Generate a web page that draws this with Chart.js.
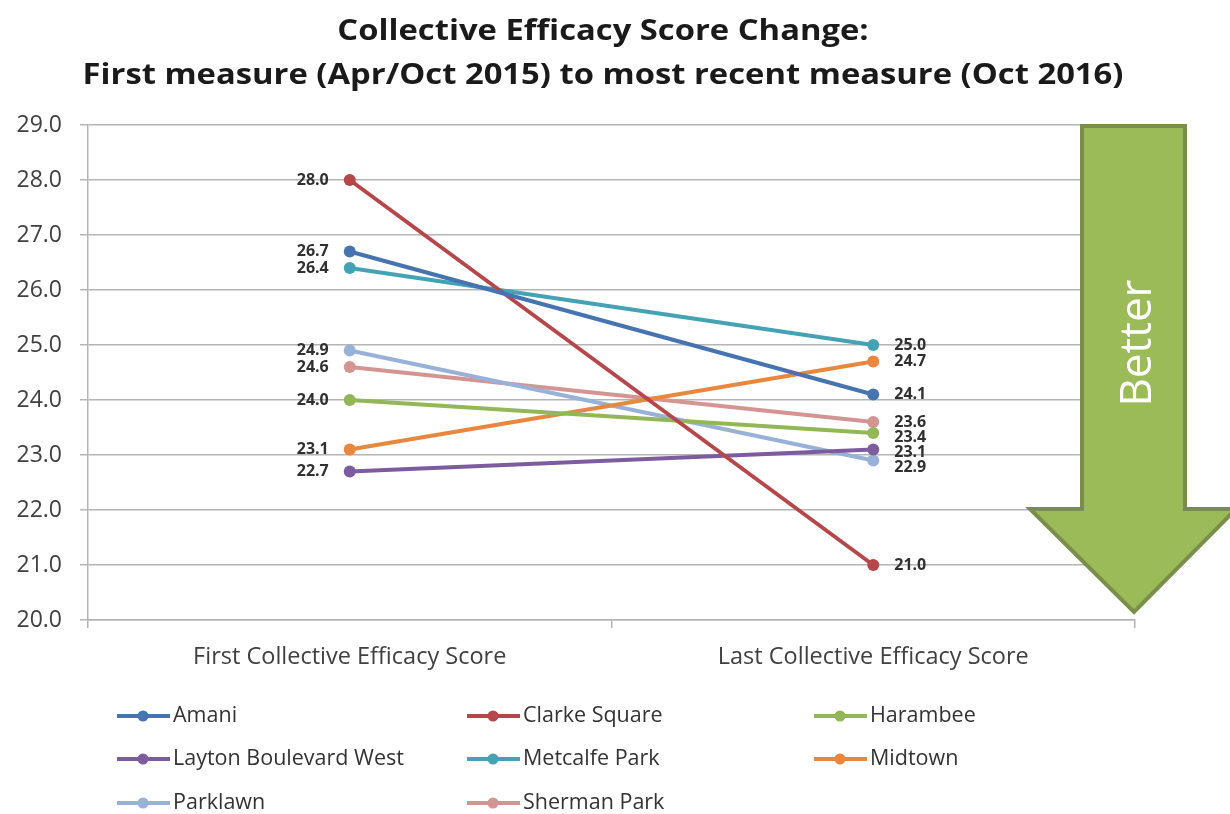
<!DOCTYPE html>
<html>
<head>
<meta charset="utf-8">
<script src="https://cdn.jsdelivr.net/npm/chart.js@4/dist/chart.umd.min.js"></script>
<style>
  html, body { margin: 0; padding: 0; background: #fff; }
  #chart { display: block; }
</style>
</head>
<body>
<canvas id="chart" width="1230" height="814"></canvas>
<script>
'use strict';

const categories = ['First Collective Efficacy Score', 'Last Collective Efficacy Score'];
const neighborhoods = ['Amani', 'Clarke Square', 'Harambee', 'Layton Boulevard West',
  'Metcalfe Park', 'Midtown', 'Parklawn', 'Sherman Park'];
const firstScores = [26.7, 28.0, 24.0, 22.7, 26.4, 23.1, 24.9, 24.6];
const lastScores = [24.1, 21.0, 23.4, 23.1, 25.0, 24.7, 22.9, 23.6];
const lineColors = ['#4674B0', '#B5474A', '#93B757', '#7C5B9E', '#45A2B5', '#E8873E', '#97B1D8', '#D49491'];
const yMin = 20, yMax = 29, yStep = 1;
const titleLines = ['Collective Efficacy Score Change:',
  'First measure (Apr/Oct 2015) to most recent measure (Oct 2016)'];
const arrowText = 'Better';

const FONT = '"Open Sans", "DejaVu Sans", sans-serif';
const gridColor = '#b4b4b4';

let canvasElem = document.getElementById('chart');

// title drawn by hand so it doesn't eat layout space (slightly widened like the original)
const titlePlugin = {
  id: 'titleText',
  afterDraw(chart) {
    const ctx = chart.ctx;
    ctx.save();
    ctx.fillStyle = '#1a1a1a';
    ctx.font = 'bold 29px ' + FONT;
    ctx.textAlign = 'center';
    ctx.textBaseline = 'middle';
    ctx.translate(603, 0);
    ctx.scale(1.13, 1);
    ctx.fillText(titleLines[0], 0, 32);
    ctx.fillText(titleLines[1], 0, 76);
    ctx.restore();
  }
};

// value labels, left of first points and right of last points
const valueLabels = {
  id: 'valueLabels',
  afterDatasetsDraw(chart) {
    const ctx = chart.ctx;
    ctx.save();
    ctx.font = 'bold 16px ' + FONT;
    ctx.fillStyle = '#303030';
    ctx.textBaseline = 'middle';
    [0, 1].forEach(idx => {
      const items = chart.data.datasets.map((ds, i) => {
        const pt = chart.getDatasetMeta(i).data[idx];
        return { x: pt.x, y: pt.y, v: ds.data[idx] };
      }).sort((a, b) => a.y - b.y);
      // keep labels from piling on top of each other
      for (let k = 1; k < items.length; k++) {
        if (items[k].y - items[k - 1].y < 15) items[k].y = items[k - 1].y + 15;
      }
      ctx.textAlign = idx === 0 ? 'right' : 'left';
      items.forEach(it => {
        const x = idx === 0 ? it.x - 21 : it.x + 21;
        ctx.fillText(it.v.toFixed(1), x, it.y);
      });
    });
    ctx.restore();
  }
};

// big green "Better" arrow on the right
const arrowPlugin = {
  id: 'betterArrow',
  afterDraw(chart) {
    const ctx = chart.ctx;
    const area = chart.chartArea;
    const top = area.top;
    const tipX = area.right - 1;
    ctx.save();
    ctx.beginPath();
    ctx.moveTo(1082, top + 1);
    ctx.lineTo(1185, top + 1);
    ctx.lineTo(1185, 509);
    ctx.lineTo(1236, 509);
    ctx.lineTo(tipX, 612);
    ctx.lineTo(1030, 509);
    ctx.lineTo(1082, 509);
    ctx.closePath();
    ctx.fillStyle = '#9BBB59';
    ctx.fill();
    ctx.lineWidth = 4;
    ctx.strokeStyle = '#7A8E4B';
    ctx.lineJoin = 'miter';
    ctx.stroke();
    ctx.translate(1138, 343);
    ctx.rotate(-Math.PI / 2);
    ctx.fillStyle = '#ffffff';
    ctx.font = '44px ' + FONT;
    ctx.textAlign = 'center';
    ctx.textBaseline = 'middle';
    ctx.fillText(arrowText, 0, 0);
    ctx.restore();
  }
};

// legend in three columns
const legendPlugin = {
  id: 'gridLegend',
  afterDraw(chart) {
    const ctx = chart.ctx;
    const colX = [117, 467, 814];
    const rowY = [716, 759, 803];
    ctx.save();
    ctx.font = '21.5px ' + FONT;
    ctx.textBaseline = 'middle';
    ctx.textAlign = 'left';
    chart.data.datasets.forEach((ds, i) => {
      const x = colX[i % 3];
      const y = rowY[Math.floor(i / 3)];
      ctx.strokeStyle = ds.borderColor;
      ctx.lineWidth = 4;
      ctx.beginPath();
      ctx.moveTo(x, y);
      ctx.lineTo(x + 53, y);
      ctx.stroke();
      ctx.fillStyle = ds.borderColor;
      ctx.beginPath();
      ctx.arc(x + 26, y, 5.5, 0, Math.PI * 2);
      ctx.fill();
      ctx.fillStyle = '#333333';
      ctx.fillText(ds.label, x + 56, y);
    });
    ctx.restore();
  }
};

function renderChart() {
  const datasets = neighborhoods.map((name, i) => ({
    label: name,
    data: [firstScores[i], lastScores[i]],
    borderColor: lineColors[i],
    backgroundColor: lineColors[i],
    borderWidth: 4,
    pointRadius: 6,
    pointHoverRadius: 6,
    pointBorderWidth: 0,
    tension: 0
  }));

  const config = {
    type: 'line',
    data: { labels: categories, datasets: datasets },
    options: {
      responsive: false,
      animation: false,
      layout: { padding: { top: 125, right: 95, bottom: 134, left: 0 } },
      plugins: {
        legend: { display: false },
        title: { display: false },
        tooltip: { enabled: false }
      },
      scales: {
        x: {
          offset: true,
          afterFit(scale) { scale.height = 60; },
          grid: {
            offset: true,
            drawOnChartArea: false,
            drawTicks: true,
            tickLength: 8,
            color: gridColor,
            lineWidth: 1.5
          },
          border: { color: gridColor, width: 1.5 },
          ticks: {
            color: '#404040',
            font: { family: FONT, size: 23.5 },
            padding: 15
          }
        },
        y: {
          min: yMin,
          max: yMax,
          afterFit(scale) { scale.width = 88; },
          grid: {
            color: gridColor,
            lineWidth: 1.5,
            tickLength: 8
          },
          border: { color: gridColor, width: 1.5 },
          ticks: {
            stepSize: yStep,
            color: '#404040',
            font: { family: FONT, size: 23 },
            padding: 18,
            callback: v => Number(v).toFixed(1)
          }
        }
      }
    },
    plugins: [titlePlugin, valueLabels, arrowPlugin, legendPlugin]
  };

  new Chart(canvasElem, config);
}

renderChart();
</script>
</body>
</html>
